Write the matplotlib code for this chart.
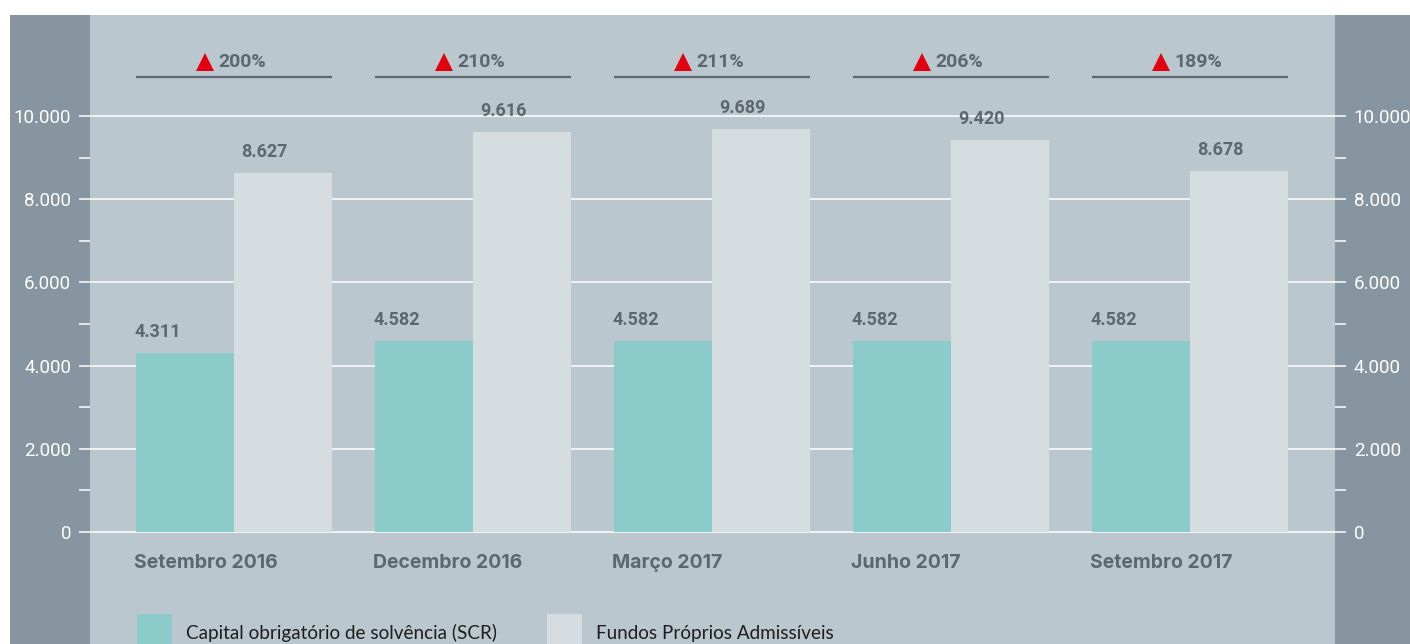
import matplotlib.pyplot as plt
from matplotlib.patches import Rectangle
from matplotlib.ticker import FixedLocator, FuncFormatter

# data
periodos = ["Setembro 2016", "Decembro 2016", "Março 2017", "Junho 2017", "Setembro 2017"]
scr = [4311, 4582, 4582, 4582, 4582]
fundos = [8627, 9616, 9689, 9420, 8678]
racio = [200, 210, 211, 206, 189]
legenda = ["Capital obrigatório de solvência (SCR)", "Fundos Próprios Admissíveis"]

TEAL = "#8bcccb"
LIGHT = "#d5dde1"
PANEL = "#bbc7cf"
DARK = "#86959f"
TXT = "#5c6770"
RED = "#e3000f"

W, H = 1410, 644
fig = plt.figure(figsize=(W / 100, H / 100), dpi=100)
fig.patch.set_facecolor("white")

# dark side panels
fig.add_artist(Rectangle((10 / W, 0), 80 / W, (H - 15) / H, transform=fig.transFigure,
                         facecolor=DARK, edgecolor="none", zorder=0))
fig.add_artist(Rectangle((1335 / W, 0), 75 / W, (H - 15) / H, transform=fig.transFigure,
                         facecolor=DARK, edgecolor="none", zorder=0))

ax = fig.add_axes([90 / W, 0, 1245 / W, (H - 15) / H])
ax.set_facecolor(PANEL)
for s in ax.spines.values():
    s.set_visible(False)

per_px = 2000 / 83.2
y0_px = 532
ax.set_ylim(-(H - y0_px) * per_px, (y0_px - 15) * per_px)
ax.set_xlim(-144 / 239, 1101 / 239)

bw = 98 / 239
x = list(range(len(periodos)))

ax.yaxis.set_major_locator(FixedLocator([0, 2000, 4000, 6000, 8000, 10000]))
ax.yaxis.set_minor_locator(FixedLocator([1000, 3000, 5000, 7000, 9000]))
ax.yaxis.set_major_formatter(FuncFormatter(lambda v, p: f"{int(v):,}".replace(",", ".")))
ax.tick_params(axis="y", which="both", length=8, width=1.1, color="white",
               left=True, right=True, labelleft=True, labelright=True, direction="out")
ax.tick_params(axis="y", which="major", labelsize=13.5, labelcolor="white", pad=5.5)
ax.set_xticks([])
for lab in ax.get_yticklabels():
    lab.set_fontfamily(["Roboto", "DejaVu Sans"])
ax.yaxis.grid(True, which="major", color="white", linewidth=1.1)
ax.set_axisbelow(True)

ax.bar([i - bw / 2 for i in x], scr, width=bw, color=TEAL, zorder=2)
ax.bar([i + bw / 2 for i in x], fundos, width=bw, color=LIGHT, zorder=2)

off = 21 * per_px
for i in x:
    ax.text(i - bw - 0.005, scr[i] + off, f"{scr[i]:,}".replace(",", "."), ha="left", va="center",
            fontsize=13, fontweight="bold", color=TXT, family=["Roboto", "DejaVu Sans"], zorder=3)
    ax.text(i + 7 / 239, fundos[i] + off, f"{fundos[i]:,}".replace(",", "."), ha="left", va="center",
            fontsize=13, fontweight="bold", color=TXT, family=["Roboto", "DejaVu Sans"], zorder=3)
    ax.text(i - bw - 0.01, -31 * per_px, periodos[i], ha="left", va="center",
            fontsize=14, fontweight="bold", color=TXT, family=["Inter", "DejaVu Sans"])
    # ratio header
    ax.plot([i - bw, i + bw], [(y0_px - 77) * per_px] * 2, color=TXT, linewidth=1.6,
            solid_capstyle="butt", zorder=3)
    ax.plot(i - 29 / 239, (y0_px - 62) * per_px, marker="^", color=RED, markersize=13,
            markeredgewidth=0, zorder=3)
    ax.text(i - 16 / 239, (y0_px - 62) * per_px, f"{racio[i]}%", ha="left", va="center",
            fontsize=14, fontweight="bold", color=TXT, family=["Roboto", "DejaVu Sans"])

# legend
for j, (lx, c) in enumerate([(137, TEAL), (547, LIGHT)]):
    fig.add_artist(Rectangle((lx / W, 0), 35 / W, 30 / H, transform=fig.transFigure,
                             facecolor=c, edgecolor="none"))
    fig.text((lx + 49) / W, (H - 633) / H, legenda[j], ha="left", va="center",
             fontsize=13.6, color="#1e1e1e", family=["Lato", "DejaVu Sans"])

fig.savefig("out.png", dpi=100, facecolor=fig.get_facecolor())
